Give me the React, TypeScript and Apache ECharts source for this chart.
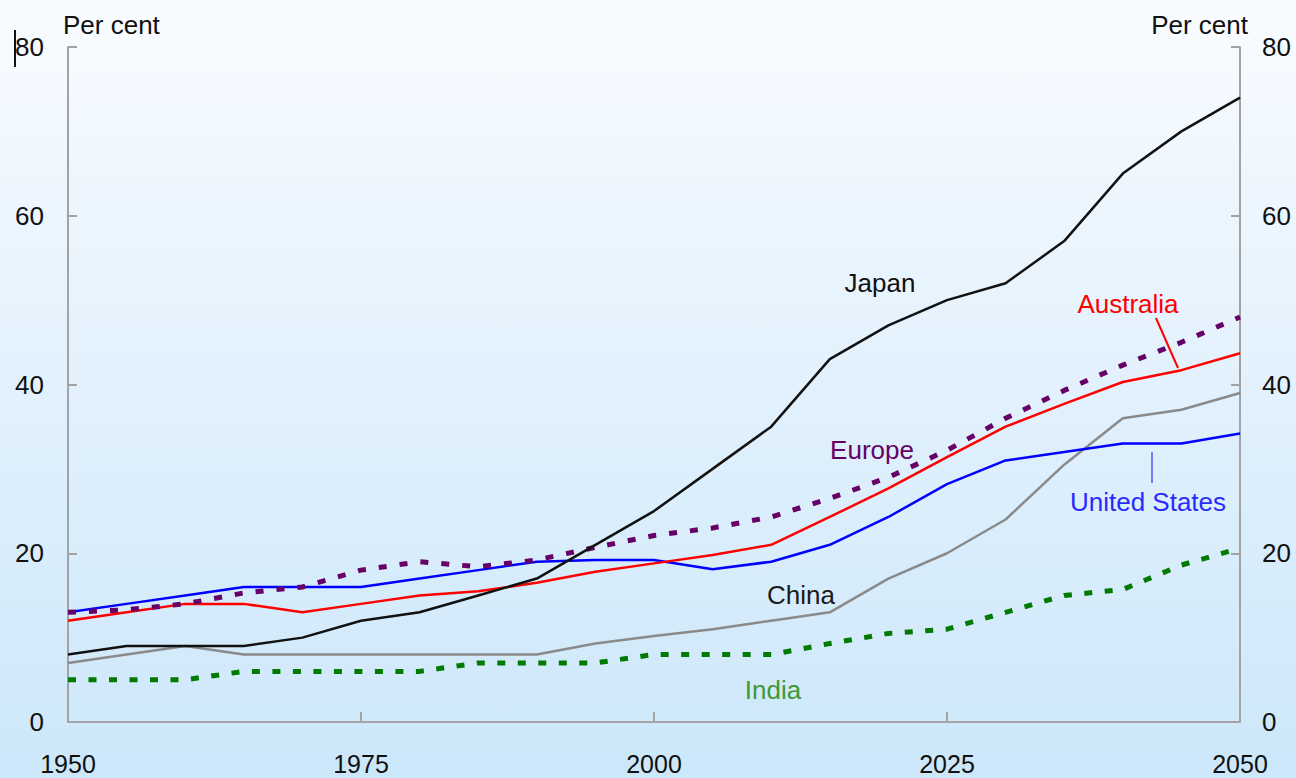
import { useEffect, useRef } from "react";
import * as echarts from "echarts";

// Share of population aged 65+ (per cent), 1950–2050
const years = [
  1950, 1955, 1960, 1965, 1970, 1975, 1980, 1985, 1990, 1995, 2000,
  2005, 2010, 2015, 2020, 2025, 2030, 2035, 2040, 2045, 2050,
];
const japan = [8, 9, 9, 9, 10, 12, 13, 15, 17, 21, 25, 30, 35, 43, 47, 50, 52, 57, 65, 70, 74];
const australia = [12, 13, 14, 14, 13, 14, 15, 15.5, 16.5, 17.8, 18.8, 19.8, 21, 24.3, 27.7, 31.4, 35, 37.7, 40.3, 41.7, 43.7];
const unitedStates = [13, 14, 15, 16, 16, 16, 17, 18, 19, 19.2, 19.2, 18.1, 19, 21, 24.3, 28.2, 31, 32, 33, 33, 34.2];
const europe = [13, 13.3, 14, 15.3, 16, 18, 19, 18.4, 19.2, 20.7, 22.1, 23, 24.3, 26.5, 29, 32.2, 36, 39.3, 42.3, 45, 48];
const china = [7, 8, 9, 8, 8, 8, 8, 8, 8, 9.3, 10.2, 11, 12, 13, 17, 20, 24, 30.5, 36, 37, 39];
const india = [5, 5, 5, 6, 6, 6, 6, 7, 7, 7, 8, 8, 8, 9.3, 10.5, 11, 13, 15, 15.7, 18.6, 20.6];

const FONT = "'Liberation Sans', Arial, sans-serif";
const AXIS_GREY = "#a3a3a3";

const pairs = (vals: number[]) => years.map((y, i) => [y, vals[i]]);

export default function App() {
  const ref = useRef<HTMLDivElement>(null);

  useEffect(() => {
    document.body.style.margin = "0";
    const chart = echarts.init(ref.current!, null, { renderer: "svg" });

    const yAxisBase = {
      type: "value",
      min: 0,
      max: 80,
      interval: 20,
      splitLine: { show: false },
      axisLine: { show: true, lineStyle: { color: AXIS_GREY, width: 2 } },
      axisTick: { show: true, inside: true, length: 9, lineStyle: { color: AXIS_GREY, width: 2 } },
    };

    const textStyle = (fill: string) => ({
      fill,
      font: `26px ${FONT}`,
      textAlign: "center",
      textVerticalAlign: "middle",
    });

    chart.setOption({
      animation: false,
      backgroundColor: "transparent",
      grid: { left: 68, right: 56, top: 47, bottom: 56 },
      xAxis: {
        type: "value",
        min: 1950,
        max: 2050,
        interval: 25,
        splitLine: { show: false },
        axisLine: { lineStyle: { color: AXIS_GREY, width: 2 } },
        axisTick: { inside: true, length: 10, lineStyle: { color: AXIS_GREY, width: 2 } },
        axisLabel: {
          margin: 29,
          fontSize: 25,
          color: "#111",
          fontFamily: FONT,
          formatter: (v: number) => String(v),
        },
      },
      yAxis: [
        {
          ...yAxisBase,
          position: "left",
          axisLabel: { margin: 24, fontSize: 26, color: "#111", fontFamily: FONT },
        },
        {
          ...yAxisBase,
          position: "right",
          axisLabel: { margin: 22, fontSize: 26, color: "#111", fontFamily: FONT },
        },
      ],
      series: [
        {
          name: "China",
          type: "line",
          symbol: "none",
          data: pairs(china),
          lineStyle: { color: "#8a8a8a", width: 2.5 },
        },
        {
          name: "United States",
          type: "line",
          symbol: "none",
          data: pairs(unitedStates),
          lineStyle: { color: "#0000ff", width: 2.5 },
        },
        {
          name: "Australia",
          type: "line",
          symbol: "none",
          data: pairs(australia),
          lineStyle: { color: "#ff0000", width: 2.5 },
        },
        {
          name: "Europe",
          type: "line",
          symbol: "none",
          data: pairs(europe),
          lineStyle: { color: "#660066", width: 5, type: [8, 13], cap: "butt" },
        },
        {
          name: "India",
          type: "line",
          symbol: "none",
          data: pairs(india),
          lineStyle: { color: "#007a00", width: 5, type: [8, 12.5], cap: "butt" },
        },
        {
          name: "Japan",
          type: "line",
          symbol: "none",
          data: pairs(japan),
          lineStyle: { color: "#111111", width: 2.5 },
        },
      ],
      graphic: [
        { type: "text", left: 63, top: 12, style: { text: "Per cent", fill: "#111", font: `26px ${FONT}` } },
        { type: "text", right: 48, top: 12, style: { text: "Per cent", fill: "#111", font: `26px ${FONT}` } },
        { type: "line", shape: { x1: 15, y1: 30, x2: 15, y2: 67 }, style: { stroke: "#111", lineWidth: 2 } },
        { type: "text", x: 880, y: 283, style: { text: "Japan", ...textStyle("#111") } },
        { type: "text", x: 1128, y: 304, style: { text: "Australia", ...textStyle("#ff0000") } },
        { type: "line", shape: { x1: 1156, y1: 318, x2: 1178, y2: 368 }, style: { stroke: "#ff0000", lineWidth: 2 } },
        { type: "text", x: 872, y: 450, style: { text: "Europe", ...textStyle("#660066") } },
        { type: "text", x: 1148, y: 502, style: { text: "United States", ...textStyle("#2a2aff") } },
        { type: "line", shape: { x1: 1152, y1: 452, x2: 1152, y2: 483 }, style: { stroke: "#7a7aff", lineWidth: 2 } },
        { type: "text", x: 801, y: 595, style: { text: "China", ...textStyle("#1a1a1a") } },
        { type: "text", x: 773, y: 690, style: { text: "India", ...textStyle("#3f9a33") } },
      ],
    });

    return () => chart.dispose();
  }, []);

  return (
    <div
      ref={ref}
      style={{
        width: 1296,
        height: 778,
        background: "linear-gradient(to bottom, #f9fcff 0%, #e4f2fd 45%, #cce7fa 100%)",
      }}
    />
  );
}
